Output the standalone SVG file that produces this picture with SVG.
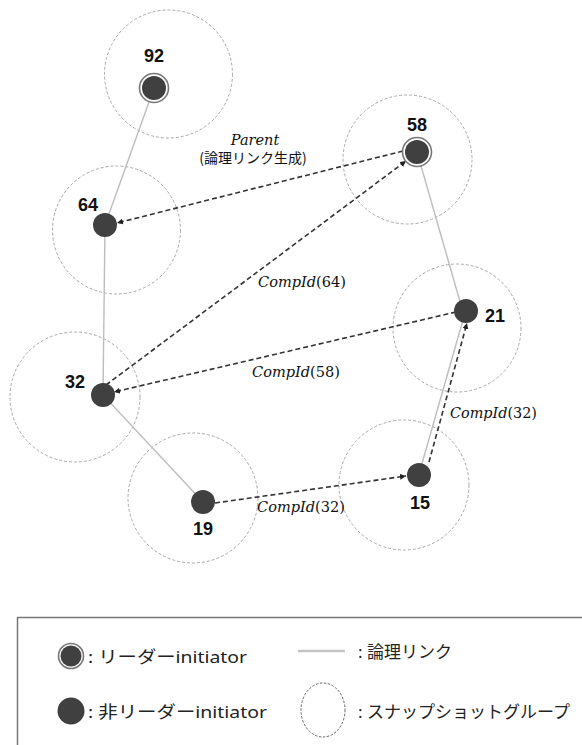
<svg xmlns="http://www.w3.org/2000/svg" width="582" height="745" viewBox="0 0 582 745">
<style>
.grp{fill:none;stroke:#a8a8a8;stroke-width:1;stroke-dasharray:3 2}
.link{stroke:#bdbdbd;stroke-width:1.4;fill:none}
.msg{stroke:#333;stroke-width:1.6;stroke-dasharray:5 3;fill:none;marker-end:url(#ah)}
.dot{fill:#404040}
.ring{fill:#fff;stroke:#777;stroke-width:1.6}
.num{font-family:"Liberation Sans",Arial,sans-serif;font-weight:bold;font-size:18px;fill:#111;text-anchor:middle}
.lbl{font-family:"DejaVu Serif",serif;font-size:14.5px;fill:#111}
.it{font-style:italic}
.jp{font-family:"Noto Sans CJK JP",sans-serif;font-size:14px;fill:#111}
.leg{font-family:"Noto Sans","Noto Sans CJK JP",sans-serif;font-size:17px;fill:#222}
</style>
<defs>
<marker id="ah" viewBox="0 0 10 10" refX="10" refY="5" markerWidth="6" markerHeight="6" markerUnits="userSpaceOnUse" orient="auto">
<path d="M0,0 L10,5 L0,10 z" fill="#222"/>
</marker>
</defs>
<rect width="582" height="745" fill="#fff"/>

<g id="groups">
<circle class="grp" cx="168.5" cy="74" r="64"/>
<circle class="grp" cx="116.5" cy="230" r="64"/>
<circle class="grp" cx="407.5" cy="159.5" r="64.5"/>
<circle class="grp" cx="457" cy="328" r="64"/>
<circle class="grp" cx="75" cy="397" r="65"/>
<circle class="grp" cx="193" cy="498" r="65"/>
<circle class="grp" cx="404" cy="485" r="65"/>
</g>

<g id="connectors">
<line class="link" x1="154" y1="88" x2="105" y2="225"/>
<line class="link" x1="105" y1="225" x2="103" y2="395"/>
<line class="link" x1="103" y1="395" x2="203" y2="502"/>
<line class="link" x1="417" y1="152" x2="461" y2="305"/>
<line class="link" x1="465" y1="313" x2="419" y2="474"/>
<line class="msg" x1="403" y1="151" x2="117" y2="223"/>
<line class="msg" x1="106" y1="385" x2="406" y2="161"/>
<line class="msg" x1="456" y1="312" x2="114" y2="392"/>
<line class="msg" x1="215" y1="503" x2="406" y2="476"/>
<line class="msg" x1="429" y1="462" x2="467" y2="323"/>
<text class="lbl it" x="255" y="145" text-anchor="middle">Parent</text>
<text class="jp" x="253" y="163" text-anchor="middle">(論理リンク生成)</text>
<text class="lbl" x="258" y="287" textLength="88" lengthAdjust="spacingAndGlyphs"><tspan class="it">CompId</tspan>(64)</text>
<text class="lbl" x="252" y="377" textLength="88" lengthAdjust="spacingAndGlyphs"><tspan class="it">CompId</tspan>(58)</text>
<text class="lbl" x="257" y="512" textLength="88" lengthAdjust="spacingAndGlyphs"><tspan class="it">CompId</tspan>(32)</text>
<text class="lbl" x="450" y="418" textLength="87" lengthAdjust="spacingAndGlyphs"><tspan class="it">CompId</tspan>(32)</text>
</g>

<g id="n92"><circle class="ring" cx="154" cy="88" r="14.5"/><circle class="dot" cx="154" cy="88" r="12"/><text class="num" x="154" y="62">92</text></g>
<g id="n64"><circle class="dot" cx="105" cy="225" r="12"/><text class="num" x="88" y="211">64</text></g>
<g id="n58"><circle class="ring" cx="417" cy="152" r="14.5"/><circle class="dot" cx="417" cy="152" r="12"/><text class="num" x="417" y="131">58</text></g>
<g id="n21"><circle class="dot" cx="466" cy="311" r="12"/><text class="num" x="495" y="322">21</text></g>
<g id="n32"><circle class="dot" cx="103" cy="395" r="12"/><text class="num" x="75" y="388">32</text></g>
<g id="n19"><circle class="dot" cx="203" cy="502" r="12"/><text class="num" x="203" y="535">19</text></g>
<g id="n15"><circle class="dot" cx="419" cy="475" r="12"/><text class="num" x="420" y="509">15</text></g>

<g id="legend">
<rect x="17.5" y="617.5" width="600" height="200" fill="none" stroke="#777" stroke-width="1.5"/>
<circle class="ring" cx="71" cy="656" r="12.5"/><circle class="dot" cx="71" cy="656" r="10.5"/>
<text class="leg" x="88" y="663" textLength="159" lengthAdjust="spacingAndGlyphs">: リーダーinitiator</text>
<circle class="dot" cx="71" cy="711" r="13.5"/>
<text class="leg" x="88" y="718" textLength="179" lengthAdjust="spacingAndGlyphs">: 非リーダーinitiator</text>
<line x1="298" y1="651" x2="345" y2="651" stroke="#c4c4c4" stroke-width="2.5"/>
<text class="leg" x="358" y="658">: 論理リンク</text>
<ellipse cx="323" cy="710" rx="22" ry="27" fill="none" stroke="#666" stroke-width="1" stroke-dasharray="2.5 1.5"/>
<text class="leg" x="358" y="718">: スナップショットグループ</text>
</g>
</svg>
